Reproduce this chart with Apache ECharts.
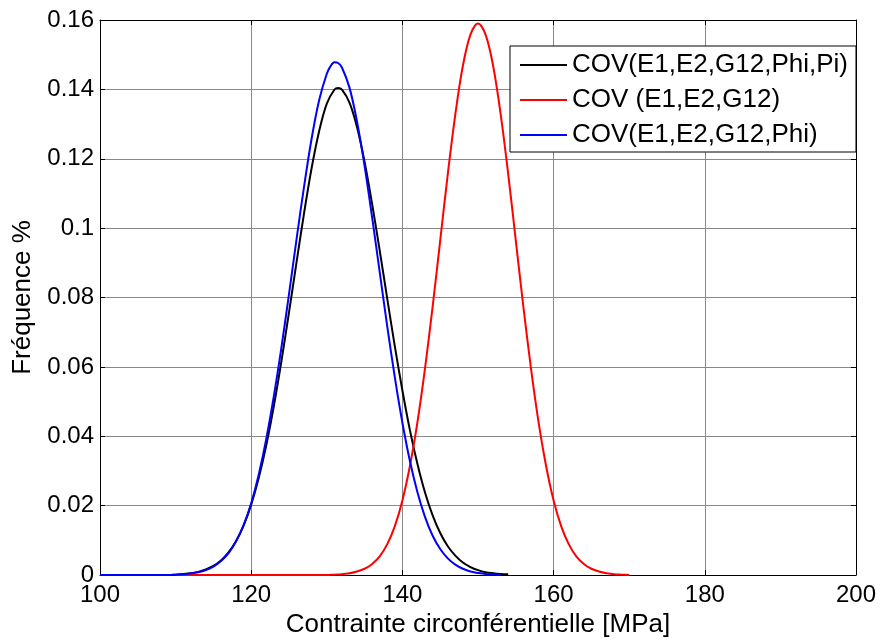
<!DOCTYPE html>
<html><head><meta charset="utf-8">
<script src="https://cdn.jsdelivr.net/npm/echarts@6/dist/echarts.min.js"></script>
<style>html,body{margin:0;padding:0;background:#fff}#c{width:880px;height:639px}</style>
</head><body><div id="c"></div>
<script>
// ---- data ----
const seriesNames = ['COV(E1,E2,G12,Phi,Pi)', 'COV (E1,E2,G12)', 'COV(E1,E2,G12,Phi)'];
const seriesColors = ['#000000', '#ff0000', '#0000ff'];

const blackX = [100,101,102,103,104,105,106,107,108,109,110,111,112,113,114,115,116,117,118,119,120,121,122,123,124,125,126,127,128,129,130,131,131.5,132,133,134,135,136,137,138,139,140,141,142,143,144,145,146,147,148,149,150,151,152,153,154];
const blackY = [0,0,0,0,0,0,0,0,0,0,0.0001,0.0003,0.0005,0.0009,0.0016,0.0026,0.0042,0.0065,0.0098,0.0143,0.0203,0.0280,0.0375,0.0488,0.0617,0.0757,0.0902,0.1044,0.1174,0.1281,0.1359,0.1399,0.1404,0.1399,0.1362,0.1291,0.1191,0.1069,0.0935,0.0796,0.0659,0.0532,0.0417,0.0319,0.0237,0.0172,0.0121,0.0083,0.0056,0.0036,0.0023,0.0014,0.0008,0.0005,0.0003,0.0002];

const redX = [110,111,112,113,114,115,116,117,118,119,120,121,122,123,124,125,126,127,128,129,130,131,132,133,134,135,136,137,138,139,140,141,142,143,144,145,146,147,148,149,150,151,152,153,154,155,156,157,158,159,160,161,162,163,164,165,166,167,168,169,170];
const redY = [0,0,0,0,0,0,0,0,0,0,0,0,0,0,0,0,0,0,0,0,0,0.0001,0.0002,0.0005,0.0010,0.0018,0.0032,0.0054,0.0089,0.0141,0.0215,0.0315,0.0442,0.0597,0.0774,0.0964,0.1155,0.1328,0.1468,0.1558,0.1590,0.1558,0.1468,0.1328,0.1155,0.0964,0.0774,0.0597,0.0442,0.0315,0.0215,0.0141,0.0089,0.0054,0.0032,0.0018,0.0010,0.0005,0.0002,0.0001,0];

const blueX = [100,101,102,103,104,105,106,107,108,109,110,111,112,113,114,115,116,117,118,119,120,121,122,123,124,125,126,127,128,129,130,130.5,131,131.5,132,133,134,135,136,137,138,139,140,141,142,143,144,145,146,147,148,149,150,151,152,153];
const blueY = [0,0,0,0,0,0,0,0,0,0,0.0001,0.0002,0.0005,0.0008,0.0014,0.0024,0.0040,0.0063,0.0097,0.0144,0.0207,0.0290,0.0393,0.0516,0.0656,0.0810,0.0968,0.1121,0.1259,0.1370,0.1445,0.1467,0.1478,0.1476,0.1463,0.1405,0.1307,0.1179,0.1030,0.0873,0.0716,0.0570,0.0439,0.0328,0.0238,0.0167,0.0113,0.0075,0.0048,0.0030,0.0018,0.0010,0.0006,0.0003,0.0002,0.0001];

const xTicks = [100,120,140,160,180,200];
const yTicks = [0,0.02,0.04,0.06,0.08,0.1,0.12,0.14,0.16];
const xTitle = 'Contrainte circonférentielle [MPa]';
const yTitle = 'Fréquence %';

// ---- chart ----
const pairs = (xs, ys) => xs.map((x, i) => [x, ys[i]]);
const FONT = '"Liberation Sans", Arial, sans-serif';
const chart = echarts.init(document.getElementById('c'), null, {renderer: 'canvas'});
const axisCommon = {
  axisLine: {show: true, onZero: false, lineStyle: {color: '#000', width: 1}},
  axisTick: {show: true, inside: true, length: 5, lineStyle: {color: '#000'}},
};
chart.setOption({
  animation: false,
  backgroundColor: '#fff',
  grid: {left: 100, right: 24, top: 20, bottom: 64, containLabel: false, outerBoundsMode: 'none'},
  legend: {
    orient: 'vertical', left: 510, top: 46,
    padding: [6, 8, 4, 10], itemGap: 9,
    itemWidth: 47, itemHeight: 2, icon: 'rect',
    backgroundColor: '#fff', borderColor: '#000', borderWidth: 1, borderRadius: 0,
    textStyle: {fontFamily: FONT, fontSize: 26, lineHeight: 26, color: '#000', padding: [0, 0, 0, 0]},
    data: seriesNames
  },
  xAxis: [
    Object.assign({
      type: 'value', min: xTicks[0], max: xTicks[xTicks.length - 1], interval: 20,
      name: xTitle, nameLocation: 'middle', nameGap: 35,
      nameTextStyle: {fontFamily: FONT, fontSize: 26, color: '#000'},
      axisLabel: {fontFamily: FONT, fontSize: 24, color: '#000', margin: 8},
      splitLine: {show: true, lineStyle: {color: '#888', width: 1}}
    }, axisCommon),
    Object.assign({
      type: 'value', position: 'top', min: xTicks[0], max: xTicks[xTicks.length - 1], interval: 20,
      axisLabel: {show: false}, splitLine: {show: false}
    }, axisCommon)
  ],
  yAxis: [
    Object.assign({
      type: 'value', min: yTicks[0], max: yTicks[yTicks.length - 1], interval: 0.02,
      name: yTitle, nameLocation: 'middle', nameGap: 64,
      nameTextStyle: {fontFamily: FONT, fontSize: 26, color: '#000'},
      axisLabel: {fontFamily: FONT, fontSize: 24, color: '#000', margin: 6},
      splitLine: {show: true, lineStyle: {color: '#888', width: 1}}
    }, axisCommon),
    Object.assign({
      type: 'value', position: 'right', min: yTicks[0], max: yTicks[yTicks.length - 1], interval: 0.02,
      axisLabel: {show: false}, splitLine: {show: false}
    }, axisCommon)
  ],
  series: [
    {name: seriesNames[0], type: 'line', data: pairs(blackX, blackY), color: seriesColors[0]},
    {name: seriesNames[1], type: 'line', data: pairs(redX, redY), color: seriesColors[1]},
    {name: seriesNames[2], type: 'line', data: pairs(blueX, blueY), color: seriesColors[2]}
  ].map(s => Object.assign(s, {
    showSymbol: false, symbol: 'none', smooth: 0.35,
    lineStyle: {width: 2, color: s.color}, itemStyle: {color: s.color}
  }))
});
</script></body></html>
